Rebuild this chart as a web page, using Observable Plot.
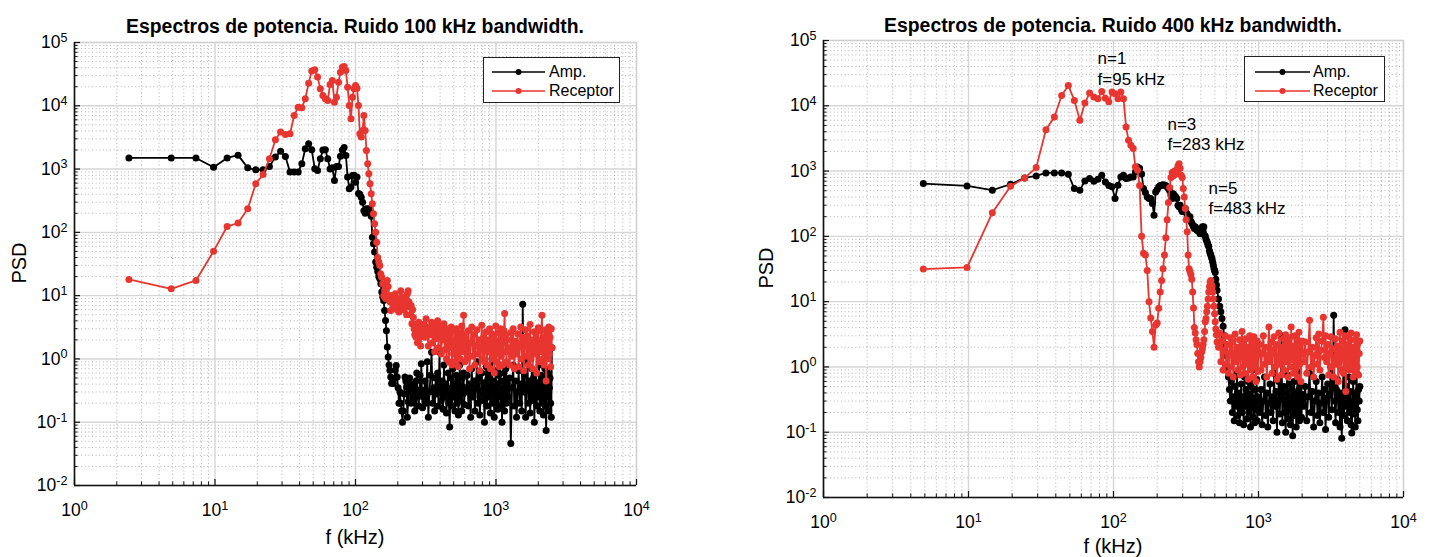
<!DOCTYPE html>
<html><head><meta charset="utf-8">
<script src="https://cdn.jsdelivr.net/npm/d3@7"></script>
<script src="https://cdn.jsdelivr.net/npm/@observablehq/plot@0.6"></script>
<style>
body{margin:0;background:#fff;font-family:"Liberation Sans",Arial,Helvetica,sans-serif;color:#000}
#wrap{position:relative;width:1432px;height:557px;overflow:hidden;background:#fff}
.plot{position:absolute;top:0}
.title{position:absolute;font-weight:bold;font-size:19.4px;text-align:center;line-height:22px;white-space:nowrap}
.xlab{position:absolute;font-size:20px;line-height:22px;white-space:nowrap;transform:translate(-50%,-50%)}
.ylab{position:absolute;font-size:20px;line-height:22px;white-space:nowrap;transform:translate(-50%,-50%) rotate(-90deg)}
.legend{position:absolute;border:1.5px solid #222;background:#fff;box-sizing:border-box}
.legend svg{position:absolute}
.legend span{position:absolute;font-size:16px;line-height:20px;white-space:nowrap}
</style></head>
<body><div id="wrap"></div>
<script>
// ---------- axis ticks ----------
const xTickValues = [1, 10, 100, 1000, 10000];
const xTickLabels = ["10^0", "10^1", "10^2", "10^3", "10^4"];
const yTickValues = [0.01, 0.1, 1, 10, 100, 1000, 10000, 100000];
const yTickLabels = ["10^-2", "10^-1", "10^0", "10^1", "10^2", "10^3", "10^4", "10^5"];
const seriesNames = ["Amp.", "Receptor"];
const seriesColors = ["#000000", "#e8352f"];

// ---------- LEFT: Ruido 100 kHz ----------
const freqL_low = [2.44,4.88,7.32,9.77,12.2,14.6,17.1,19.5,22.0,24.4,26.9,29.3,31.7,34.2,36.6,39.1,41.5,43.9,46.4,48.8,
  51.3,53.7,56.2,58.6,61.0,63.5,65.9,68.4,70.8,73.2,75.7,78.1,80.6,83.0,85.4,87.9,90.3,92.8,95.2,97.7,
  100.1,102.5,105.0,107.4,109.9,112.3,114.7,117.2,119.6,122.1,124.5,126.9,129.4,131.8,134.3,136.7,139.2,141.6,144.0,146.5,
  148.9,151.4,153.8,156.2,158.7,161.1,163.6,166.0,168.5,170.9,173.3,175.8,178.2,180.7];
const ampL_low = [1500,1500,1500,1070,1500,1660,1045,975,975,1100,
  1545,1920,1580,895,895,895,1215,2090,2510,2020,
  1010,950,1455,2000,2020,1455,1000,1050,660,1100,
  1100,1600,2000,2200,1640,750,490,520,790,800,
  620,750,410,400,360,300,220,200,236,220,
  236,209,180,84,66,49,34,28,24,20,
  18.5,15.4,11.4,9.5,8.4,5.8,4.05,2.8,1.54,1.07,
  0.8,0.66,0.52,0.41];
const recL_low = [18,12.8,17.4,50.5,124,140,236,586,822,1455,
  2900,3840,3530,3610,7030,9520,9290,12900,22800,35300,
  37100,28400,18600,14600,12900,12100,21700,25100,11400,13700,
  23600,34000,40800,41800,36100,19700,10100,6230,13700,18600,
  20900,19000,10100,3610,3200,4070,7030,4070,1970,1210,
  843,586,407,283,197,137,100,70,40,34,
  30,22,19.6,15.4,10,12,9,13,17.4,14,
  10,8,5.8,10];
const freqL_noise = [183,186,189,192,195,198,201,204,207,210,213,216,219,222,225,228,231,234,237,240,
  243,246,249,252,255,258,261,264,267,270,273,276,279,282,285,288,291,294,297,300,
  306,312,318,324,330,336,342,348,354,360,366,372,378,384,390,396,402,408,414,420,
  426,432,438,444,450,456,462,468,474,480,486,492,498,504,510,516,522,528,534,540,
  546,552,558,564,570,576,582,588,594,600,
  612,624,636,648,660,672,684,696,708,720,732,744,756,768,780,792,804,816,828,840,
  852,864,876,888,900,912,924,936,948,960,972,984,996,1008,1020,1032,1044,1056,1068,1080,
  1092,1104,1116,1128,1140,1152,1164,1176,1188,1200,
  1225,1250,1275,1300,1325,1350,1375,1400,1425,1450,1475,1500,1525,1550,1575,1600,1625,1650,1675,1700,
  1725,1750,1775,1800,1825,1850,1875,1900,1925,1950,1975,2000,2025,2050,2075,2100,2125,2150,2175,2200,
  2225,2250,2275,2300,2325,2350,2375,2400,2425,2450,2475,2500];
const ampL_noise = [0.49,0.41,0.49,0.66,0.79,0.52,0.35,0.2,0.3,0.2,0.15,0.1,0.15,0.28,0.52,0.45,0.36,0.12,0.21,0.36,
  0.5,0.3,0.2,0.4,0.25,0.36,0.21,0.15,0.3,0.45,0.6,0.25,0.32,0.18,0.3,0.55,0.26,0.84,0.32,0.17,
  0.25,0.45,0.2,0.9,0.12,0.3,0.55,1.28,0.2,0.35,0.15,0.5,0.28,0.6,0.18,1.28,0.3,0.22,0.45,0.16,
  0.8,0.25,0.4,0.14,0.35,0.6,0.2,0.084,0.3,0.5,0.18,0.7,0.25,0.4,0.15,0.3,0.55,0.2,0.45,0.13,
  0.3,0.8,0.22,0.38,0.15,0.5,0.28,0.6,0.19,0.35,
  0.3,0.55,0.18,0.4,0.12,0.7,0.25,0.45,0.15,0.35,0.9,0.2,0.5,0.13,0.3,0.6,0.22,0.42,0.1,0.33,
  0.75,0.18,0.48,0.25,0.6,0.14,0.38,1.0,0.2,0.45,0.12,0.3,0.65,0.2,0.4,0.16,0.55,0.25,0.8,0.18,
  0.35,0.1,0.45,0.22,0.6,0.15,0.38,0.7,0.2,0.42,
  0.25,0.5,0.046,0.35,0.8,0.18,0.45,0.12,0.3,0.65,0.2,0.4,0.15,7.3,0.3,0.55,0.12,0.38,0.9,0.2,
  0.45,0.14,0.32,0.7,0.22,0.5,0.1,0.35,0.6,0.18,0.42,0.25,0.8,0.15,0.36,0.55,0.2,0.45,0.13,0.3,
  0.7,0.18,0.074,0.4,0.25,0.6,0.15,0.35,0.5,0.2,0.12,1.5];
const recL_noise = [10,8,6.5,10.7,9,6,7.9,5.5,8.5,12,9.5,7,6,8,7,9,5,10.7,12,8,
  6.6,5,7,3.6,6,4.5,3,2.4,3.5,2.2,3,1.8,2.6,3.8,2.2,3,1.6,2.5,3.5,2.8,
  3.5,2.2,4.3,2.8,1.6,3.2,2.4,3.8,1.8,2.9,1.3,3.4,2.1,4.0,1.5,2.6,3.3,1.2,2.8,2.0,
  3.6,1.4,2.5,1.0,2.2,3.0,0.9,2.4,1.5,3.2,0.8,2.0,1.2,2.8,0.9,1.8,3.0,1.1,2.3,0.75,
  1.6,2.6,1.0,2.0,3.3,1.3,2.4,4.9,1.5,0.9,
  2.2,1.0,2.8,0.7,1.8,3.2,1.1,2.4,0.8,1.6,2.9,1.2,2.0,0.65,1.5,3.4,1.0,2.2,0.9,1.7,
  2.7,0.8,2.0,1.3,3.0,0.7,1.6,2.5,1.0,2.2,0.6,1.4,3.3,0.9,1.9,1.2,2.6,0.75,1.7,3.0,
  1.1,2.3,0.8,1.8,2.8,5.2,1.3,2.4,0.9,2.0,
  1.5,0.8,2.6,1.1,3.0,0.7,1.9,1.2,2.5,0.75,1.6,3.2,1.0,2.2,0.65,1.8,2.9,1.1,2.3,0.8,
  1.5,3.5,1.0,2.0,0.7,1.7,2.7,1.2,2.4,0.6,1.5,3.1,0.9,2.0,1.3,2.8,4.9,1.0,2.2,0.8,
  1.8,2.9,0.45,1.5,2.5,1.0,3.2,1.2,2.2,0.75,3.0,1.5];

// ---------- RIGHT: Ruido 400 kHz ----------
const freqR_low = [4.88,9.77,14.6,19.5,24.4,29.3,34.2,39.1,43.9,48.8,53.7,58.6,63.5,68.4,73.2,78.1,83.0,87.9,92.8,97.7,
  102.5,107.4,112.3,117.2,122.1,127.0,131.8,136.7,141.6,146.5,151.4,156.3,161.1,166.0,170.9,175.8,180.7,185.5,190.4,195.3,
  200.2,205.1,210.0,214.8,219.7,224.6,229.5,234.4,239.3,244.1,249.0,253.9,258.8,263.7,268.6,273.4,278.3,283.2,288.1,293.0,
  297.9,302.7,307.6,312.5,317.4,322.3,327.1,332.0,336.9,341.8,346.7,351.6,356.4,361.3,366.2,371.1,376.0,380.9,385.7,390.6,
  395.5,400.4,405.3,410.2,415.0,419.9,424.8,429.7,434.6,439.5,444.3,449.2,454.1,459.0,463.9,468.8,473.6,478.5,483.4,488.3,
  493.2,498.0,502.9,507.8,512.7,517.6];
const ampR_low = [643,593,509,628,785,843,937,937,937,893,
  540,509,706,767,700,750,863,682,600,573,
  379,607,814,863,767,780,814,814,971,1158,
  1100,900,540,470,400,379,380,320,211,480,
  520,573,600,607,620,607,600,570,540,500,
  427,380,450,420,403,380,300,283,300,260,
  240,252,240,267,230,220,199,180,199,170,
  160,149,140,132,140,132,124,130,120,124,
  110,124,130,140,120,140,104,100,90,85,
  80,73,70,60,55,52,48,45,40,36,
  32,30,28,22,18,15];
const recR_low = [31.5,33.4,229,586,785,1130,4300,6730,14400,20500,
  12100,5980,11000,15700,13600,12800,16600,13000,11500,16200,
  15300,12800,16200,12800,4730,2960,2480,2210,1160,1030,
  600,100,55,52,30,10,5.6,3.5,2.0,4.4,
  4.7,7.9,14,21,32,52,95,180,330,560,
  800,950,850,1000,900,1050,1200,1300,1100,863,
  800,540,400,267,180,118,52,32,29,26,
  22,14,8,4,3.3,2.6,2.2,1.6,1.2,1.0,
  1.2,1.4,1.7,1.9,2.2,2.6,3.5,4.9,5.5,7.0,
  8.5,11,14,17,20,21,18,17,14,11,
  8.5,6.5,4.9,3.8,3.1,2.4];
const freqR_noise = [530,540,550,560,570,580,590,600,610,620,630,640,650,660,670,680,690,700,710,720,
  730,740,750,760,770,780,790,800,810,820,830,840,850,860,870,880,890,900,910,920,
  930,940,950,960,970,980,990,1000,
  1020,1040,1060,1080,1100,1120,1140,1160,1180,1200,1220,1240,1260,1280,1300,1320,1340,1360,1380,1400,
  1420,1440,1460,1480,1500,1520,1540,1560,1580,1600,1620,1640,1660,1680,1700,1720,1740,1760,1780,1800,
  1820,1840,1860,1880,1900,1920,1940,1960,1980,2000,
  2050,2100,2150,2200,2250,2300,2350,2400,2450,2500,2550,2600,2650,2700,2750,2800,2850,2900,2950,3000,
  3050,3100,3150,3200,3250,3300,3350,3400,3450,3500,3550,3600,3650,3700,3750,3800,3850,3900,3950,4000,
  4050,4100,4150,4200,4250,4300,4350,4400,4450,4500,4550,4600,4650,4700,4750,4800,4850,4900,4950,5000];
const ampR_noise = [11,8.5,7,5.5,4.2,3,2.2,1.5,0.9,0.7,0.45,0.3,0.6,0.2,0.35,0.15,0.5,0.25,0.8,0.18,
  0.4,0.14,0.3,0.55,0.2,0.35,0.13,0.7,0.25,0.45,0.16,0.3,0.6,0.2,0.38,0.12,0.5,0.24,0.9,0.17,
  0.33,0.14,0.45,0.22,0.65,0.15,0.35,0.28,
  0.2,0.45,0.13,0.3,0.7,0.18,0.4,0.12,0.28,0.55,0.2,0.35,0.15,0.8,0.25,0.42,0.1,0.3,0.6,0.19,
  0.38,3.0,0.14,0.32,0.5,0.2,0.1,0.4,0.75,0.16,0.3,0.55,0.13,0.27,0.45,0.088,0.35,0.6,0.18,0.4,
  0.12,0.3,0.85,0.2,0.45,0.15,0.33,0.55,0.17,0.38,
  0.25,0.5,0.15,0.35,0.8,0.2,0.42,0.12,0.3,0.6,0.18,0.4,0.14,0.28,0.7,0.2,0.45,0.11,0.33,0.55,
  0.17,0.38,1.0,0.22,0.5,6.2,0.3,0.14,0.45,0.65,0.2,0.35,0.12,0.4,0.081,0.3,0.9,0.18,3.7,0.25,
  0.5,0.15,0.36,0.7,0.2,0.42,0.13,0.097,0.3,0.6,0.19,0.4,0.12,0.33,0.8,0.22,0.15,0.45,0.3,0.5];
const recR_noise = [2.0,3.3,1.2,2.5,0.9,1.8,3.0,1.1,2.2,0.8,1.6,2.8,1.0,2.4,0.7,1.5,3.2,1.2,2.0,0.9,
  1.7,2.6,0.75,1.9,3.5,1.0,2.2,0.8,1.4,2.7,1.1,2.0,0.65,1.6,3.0,0.9,1.8,2.4,0.7,1.3,
  2.9,1.0,2.1,0.6,1.5,2.5,0.85,1.7,
  2.2,0.9,1.6,3.0,1.1,2.0,0.7,1.5,4.1,1.2,2.4,0.8,1.8,2.9,1.0,2.2,0.65,1.4,3.3,1.1,
  2.0,0.75,1.7,2.7,0.9,1.5,3.1,1.2,2.3,0.7,1.6,2.8,1.0,4.1,1.3,2.1,0.8,1.5,3.0,0.95,
  1.9,2.6,0.7,1.4,3.4,1.1,2.2,0.6,1.6,2.5,
  1.2,2.4,0.8,1.7,5.2,1.0,2.0,0.7,1.5,2.8,1.1,3.2,0.9,1.8,2.5,5.75,1.4,3.0,1.2,2.2,
  0.75,1.6,2.9,1.0,1.9,0.7,1.3,2.7,1.1,2.1,0.6,1.5,3.4,0.9,1.8,2.5,0.8,1.4,3.0,0.42,
  2.2,1.0,1.6,2.8,0.9,1.7,3.3,1.1,2.0,0.7,1.5,2.6,0.85,1.8,3.1,1.0,2.3,0.75,1.6,2.5];

// annotations (right panel)
const annFreq = [77.6, 235.6, 452];
const annPSD = [38000, 3790, 391];
const annText = ["n=1\nf=95 kHz", "n=3\nf=283 kHz", "n=5\nf=483 kHz"];

const titles = ["Espectros de potencia. Ruido 100 kHz bandwidth.", "Espectros de potencia. Ruido 400 kHz bandwidth."];

// ---------- helpers ----------
const minorX = [], minorY = [];
for (let e = 0; e < 4; e++) for (let m = 2; m <= 9; m++) minorX.push(m * Math.pow(10, e));
for (let e = -2; e < 5; e++) for (let m = 2; m <= 9; m++) minorY.push(+(m * Math.pow(10, e)).toPrecision(3));

function rows(f, v) { return f.map((x, i) => ({f: x, v: v[i]})); }

function makePanel(cfg) {
  const {freq, amp, rec, left, width, height, ml, mr, mt, mb, extra} = cfg;
  const fh = height - mt - mb, fw = width - ml - mr;
  const A = rows(freq, amp), R = rows(freq, rec);
  const fx = d => xTickLabels[xTickValues.indexOf(d)];
  const fy = d => yTickLabels[yTickValues.indexOf(d)];
  const svg = Plot.plot({
    width, height, marginLeft: ml, marginRight: mr, marginTop: mt, marginBottom: mb,
    style: {fontFamily: '"Liberation Sans", Arial, sans-serif', background: "#fff", color: "#000", overflow: "visible"},
    x: {type: "log", domain: [1, 1e4]},
    y: {type: "log", domain: [1e-2, 1e5]},
    marks: [
      Plot.gridX(minorX, {stroke: "#9a9a9a", strokeOpacity: 0.75, strokeDasharray: "1,2.6", strokeWidth: 1}),
      Plot.gridY(minorY, {stroke: "#9a9a9a", strokeOpacity: 0.75, strokeDasharray: "1,2.6", strokeWidth: 1}),
      Plot.gridX(xTickValues, {stroke: "#d6d6d6", strokeOpacity: 1, strokeWidth: 1.4}),
      Plot.gridY(yTickValues, {stroke: "#d6d6d6", strokeOpacity: 1, strokeWidth: 1.4}),
      Plot.frame({stroke: "#cfcfcf", strokeWidth: 1.2}),
      Plot.line(A, {x: "f", y: "v", stroke: seriesColors[0], strokeWidth: 1.8}),
      Plot.dot(A, {x: "f", y: "v", r: 3.5, fill: seriesColors[0], stroke: "none"}),
      Plot.line(R, {x: "f", y: "v", stroke: seriesColors[1], strokeWidth: 1.8}),
      Plot.dot(R, {x: "f", y: "v", r: 3.5, fill: seriesColors[1], stroke: "none"}),
      Plot.tickX(xTickValues, {x: d => d, insetTop: fh - 6, stroke: "#111", strokeWidth: 1.2}),
      Plot.tickX(minorX, {x: d => d, insetTop: fh - 3.5, stroke: "#111", strokeWidth: 1}),
      Plot.tickY(yTickValues, {y: d => d, insetRight: fw - 6, stroke: "#111", strokeWidth: 1.2}),
      Plot.tickY(minorY, {y: d => d, insetRight: fw - 3.5, stroke: "#111", strokeWidth: 1}),
      Plot.ruleX([1], {stroke: "#111", strokeWidth: 1.6}),
      Plot.ruleY([0.01], {stroke: "#111", strokeWidth: 1.6}),
      Plot.axisX(xTickValues, {anchor: "bottom", tickSize: 0, tickPadding: 18, tickFormat: fx, fontSize: 17.5, label: null}),
      Plot.axisY(yTickValues, {anchor: "left", tickSize: 0, tickPadding: 7, tickFormat: fy, fontSize: 17.5, label: null}),
      ...(extra || [])
    ]
  });
  d3.select(svg).selectAll("text").each(function () {
    const m = /^10\^(-?\d+)$/.exec(this.textContent);
    if (!m) return;
    const s = d3.select(this);
    s.text(null);
    s.append("tspan").text("10");
    s.append("tspan").attr("dy", "-0.5em").attr("font-size", "0.72em").text(m[1]);
  });
  svg.classList.add("plot");
  svg.style.left = left + "px";
  return svg;
}

const wrap = document.getElementById("wrap");
wrap.appendChild(makePanel({
  freq: freqL_low.concat(freqL_noise), amp: ampL_low.concat(ampL_noise), rec: recL_low.concat(recL_noise),
  left: 0, width: 716, height: 557, ml: 74, mr: 80, mt: 42, mb: 72
}));
wrap.appendChild(makePanel({
  freq: freqR_low.concat(freqR_noise), amp: ampR_low.concat(ampR_noise), rec: recR_low.concat(recR_noise),
  left: 716, width: 716, height: 557, ml: 107, mr: 29, mt: 40, mb: 60,
  extra: [Plot.text(annText, {x: (d, i) => annFreq[i], y: (d, i) => annPSD[i], text: d => d,
    textAnchor: "start", lineAnchor: "middle", lineHeight: 1.2, fontSize: 17, fill: "#000"})]
}));

// ---------- titles, axis labels, legends ----------
function addDiv(cls, html, css) {
  const d = document.createElement("div");
  d.className = cls; d.innerHTML = html;
  Object.assign(d.style, css);
  wrap.appendChild(d); return d;
}
addDiv("title", titles[0], {left: "74px", width: "562px", top: "15px"});
addDiv("title", titles[1], {left: "823px", width: "580px", top: "14px"});
addDiv("xlab", "f (kHz)", {left: "355px", top: "537px"});
addDiv("xlab", "f (kHz)", {left: "1113px", top: "546px"});
addDiv("ylab", "PSD", {left: "19px", top: "263px"});
addDiv("ylab", "PSD", {left: "766px", top: "268px"});

function legend(x, y, w, lx0, lx1, tx, r1, r2) {
  const box = addDiv("legend", "", {left: x + "px", top: y + "px", width: w + "px", height: "46px"});
  [r1, r2].forEach((cy, i) => {
    const s = document.createElementNS("http://www.w3.org/2000/svg", "svg");
    s.setAttribute("width", lx1 - lx0 + 8); s.setAttribute("height", 12);
    s.style.left = (lx0 - 4) + "px"; s.style.top = (cy - 6) + "px";
    const mid = (lx1 - lx0) / 2 + 4;
    s.innerHTML = `<line x1="4" y1="6" x2="${lx1 - lx0 + 4}" y2="6" stroke="${seriesColors[i]}" stroke-width="1.6"/>` +
      `<circle cx="${mid}" cy="6" r="3" fill="${seriesColors[i]}"/>`;
    box.appendChild(s);
    const t = document.createElement("span");
    t.textContent = seriesNames[i];
    t.style.left = tx + "px"; t.style.top = (cy - 10) + "px";
    box.appendChild(t);
  });
}
legend(483, 57, 137, 8, 61, 65, 14, 33);
legend(1244, 56, 141, 10, 65, 68, 14.5, 34);
</script></body></html>
